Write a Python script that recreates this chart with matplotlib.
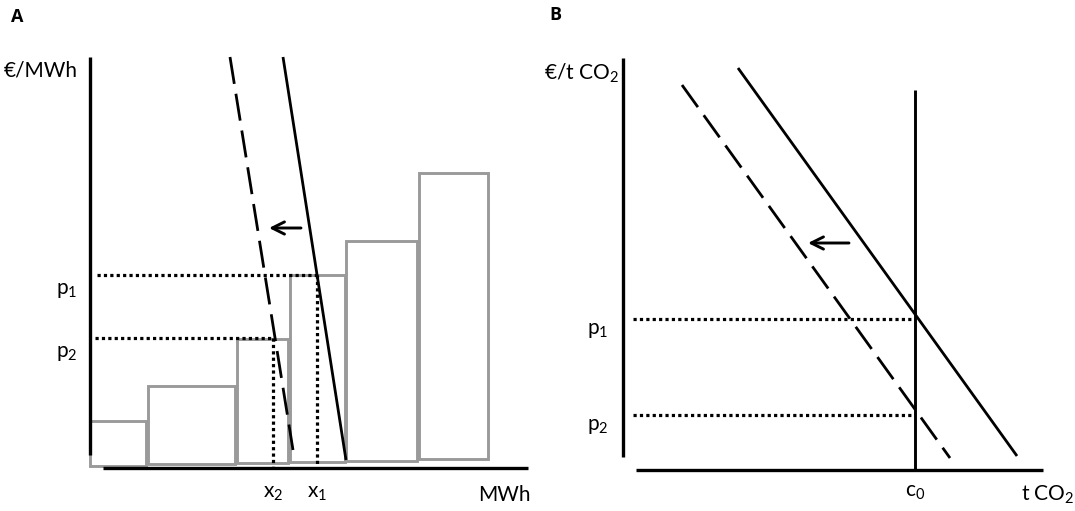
import matplotlib
matplotlib.use('Agg')
import matplotlib.pyplot as plt

plt.rcParams['font.family'] = ['Lato', 'DejaVu Sans']
plt.rcParams['mathtext.fontset'] = 'custom'
plt.rcParams['mathtext.rm'] = 'Lato'
plt.rcParams['mathtext.it'] = 'Lato:italic'

# panel A: merit order (pixel-like units, y pointing up)
bar_left = [90, 148, 237, 290, 346, 419]
bar_width = [56, 87, 51, 55, 71, 69]
bar_base = [45, 47, 48, 49, 50, 52]
bar_top = [90, 125, 172, 236, 270, 338]

demand_old_A = ([283, 346], [454, 51])
demand_new_A = ([230, 293], [454, 61])
pA = {'1': 236, '2': 173}
xA = {'1': 317, '2': 273}

# panel B: CO2 market
demand_old_B = ([738, 1017], [443, 55])
demand_new_B = ([682, 950], [426, 53])
cap_c0 = 915
pB = {'1': 192, '2': 96}

black = '#000000'
gray = '#9a9a9a'
fs = 15

fig = plt.figure(figsize=(10.75, 5.11), dpi=100)
ax = fig.add_axes([0, 0, 1, 1])
ax.set_xlim(0, 1075)
ax.set_ylim(0, 511)
ax.axis('off')

# ---------- A ----------
heights = [t - b for t, b in zip(bar_top, bar_base)]
ax.bar(bar_left, heights, width=bar_width, bottom=bar_base, align='edge',
       fill=False, edgecolor=gray, linewidth=2.1, zorder=1)

ax.plot([90, 90], [56, 454], color=black, lw=2.4, solid_capstyle='butt', zorder=3)
ax.plot([103, 528], [43, 43], color=black, lw=2.4, solid_capstyle='butt', zorder=3)

ax.plot(*demand_old_A, color=black, lw=2.0, solid_capstyle='butt', zorder=3)
ax.plot(*demand_new_A, color=black, lw=2.0, dashes=(9.8, 3.6), dash_capstyle='butt', zorder=3)

dot = dict(color=black, lw=2.3, linestyle=(0, (1, 1)), zorder=2)
ax.plot([97, xA['1']], [pA['1'], pA['1']], **dot)
ax.plot([95, xA['2']], [pA['2'], pA['2']], **dot)
ax.plot([xA['1'], xA['1']], [pA['1'], 45], **dot)
ax.plot([xA['2'], xA['2']], [pA['2'], 45], **dot)

arrow = dict(arrowstyle='->', lw=2.1, color=black, mutation_scale=22, shrinkA=0, shrinkB=0)
ax.annotate('', xy=(269, 283), xytext=(301, 283), arrowprops=arrow)

panel_font = dict(family=['Open Sans', 'DejaVu Sans'], fontsize=13, fontweight='bold')
ax.text(11, 494, 'A', va='center', ha='left', **panel_font)
ax.text(4, 441, '€/MWh', fontsize=fs, va='center', ha='left')
for k in pA:
    ax.text(56, pA[k] - 15, 'p$_\\mathregular{' + k + '}$', fontsize=fs, va='center', ha='left')
for k in xA:
    ax.text(xA[k], 18, 'x$_\\mathregular{' + k + '}$', fontsize=fs, va='center', ha='center')
ax.text(531, 16, 'MWh', fontsize=fs, va='center', ha='right')

# ---------- B ----------
ax.plot([623, 623], [54, 453], color=black, lw=2.4, solid_capstyle='butt', zorder=3)
ax.plot([636, 1043], [41, 41], color=black, lw=2.4, solid_capstyle='butt', zorder=3)
ax.plot([cap_c0, cap_c0], [41, 421], color=black, lw=2.1, solid_capstyle='butt', zorder=3)

ax.plot(*demand_old_B, color=black, lw=2.0, solid_capstyle='butt', zorder=3)
ax.plot(*demand_new_B, color=black, lw=2.0, dashes=(9.8, 3.6), dash_capstyle='butt', zorder=3)

ax.plot([633, cap_c0], [pB['1'], pB['1']], **dot)
ax.plot([633, cap_c0], [pB['2'], pB['2']], **dot)

ax.annotate('', xy=(808, 268), xytext=(849, 268), arrowprops=arrow)

ax.text(549, 496, 'B', va='center', ha='left', **panel_font)
ax.text(544, 438, '€/t CO$_\\mathregular{2}$', fontsize=fs, va='center', ha='left')
for k in pB:
    ax.text(587, pB[k] - 11, 'p$_\\mathregular{' + k + '}$', fontsize=fs, va='center', ha='left')
ax.text(cap_c0, 19, 'c$_\\mathregular{0}$', fontsize=fs, va='center', ha='center')
ax.text(1074, 16, 't CO$_\\mathregular{2}$', fontsize=fs, va='center', ha='right')

plt.savefig('out.png', dpi=100)
